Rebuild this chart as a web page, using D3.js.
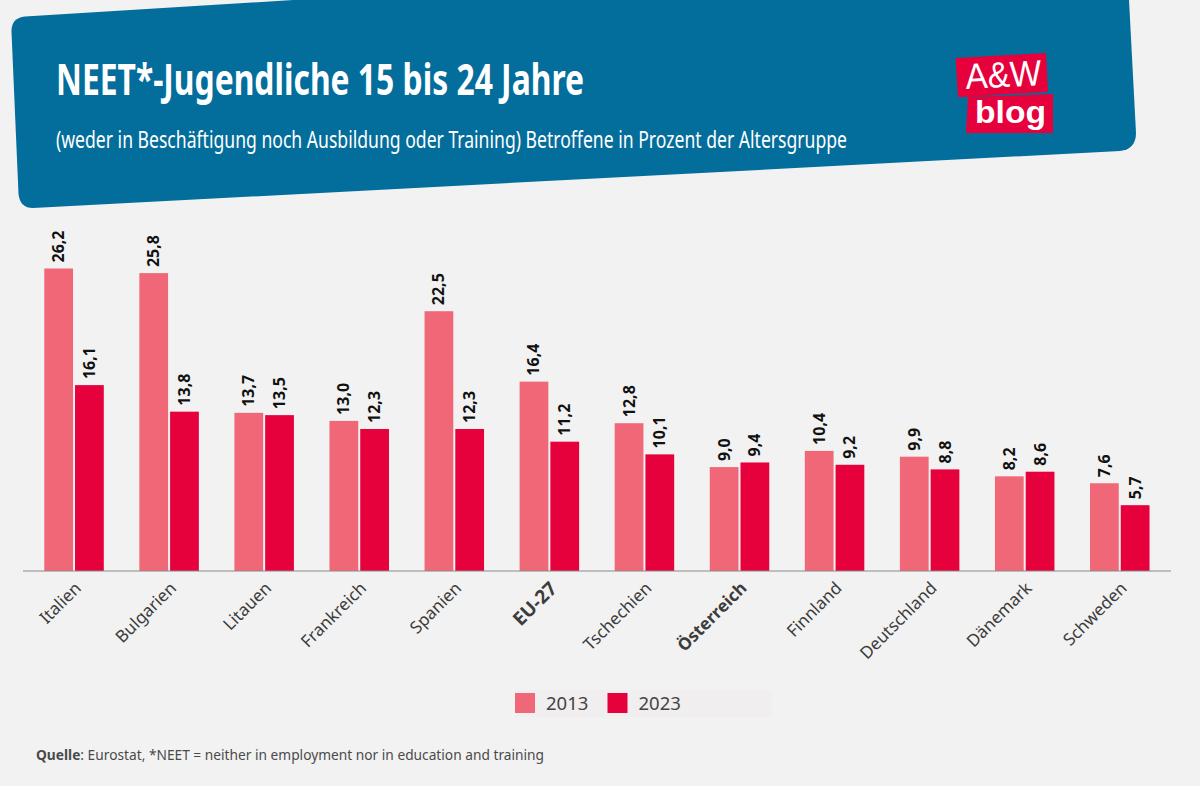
<!DOCTYPE html>
<html>
<head>
<meta charset="utf-8">
<script src="https://cdn.jsdelivr.net/npm/d3@7"></script>
<style>
  html, body { margin: 0; padding: 0; background: #f2f2f2; }
  svg { display: block; }
  text { font-family: "Noto Sans", sans-serif; }
</style>
</head>
<body>
<div id="chart"></div>
<script>
const countries = ["Italien", "Bulgarien", "Litauen", "Frankreich", "Spanien", "EU-27", "Tschechien", "Österreich", "Finnland", "Deutschland", "Dänemark", "Schweden"];
const values2013 = [26.2, 25.8, 13.7, 13.0, 22.5, 16.4, 12.8, 9.0, 10.4, 9.9, 8.2, 7.6];
const values2023 = [16.1, 13.8, 13.5, 12.3, 12.3, 11.2, 10.1, 9.4, 9.2, 8.8, 8.6, 5.7];
const years = ["2013", "2023"];
const boldCountries = ["EU-27", "Österreich"];

const width = 1200, height = 786;
const baseline = 571;
const colors = d3.scaleOrdinal().domain(years).range(["#f06878", "#e6003c"]);
const logoFont = '"Liberation Sans", sans-serif';

const svg = d3.select("#chart").append("svg")
    .attr("width", width)
    .attr("height", height);

svg.append("rect")
    .attr("width", width)
    .attr("height", height)
    .attr("fill", "#f2f2f2");

// header shape
svg.append("path")
    .attr("d", "M11.5,32 Q11,18 25,16.5 L293,0 L1129,0 L1136,133 Q1136,149 1120,151 L33,208 Q20,208 18.5,194 Z")
    .attr("fill", "#036d9c");

svg.append("text")
    .attr("x", 56)
    .attr("y", 95)
    .attr("fill", "#fff")
    .attr("font-size", 43)
    .attr("font-weight", 700)
    .attr("textLength", 528)
    .attr("lengthAdjust", "spacingAndGlyphs")
    .text("NEET*-Jugendliche 15 bis 24 Jahre");

svg.append("text")
    .attr("x", 56)
    .attr("y", 148)
    .attr("fill", "#fff")
    .attr("font-size", 23)
    .attr("textLength", 791)
    .attr("lengthAdjust", "spacingAndGlyphs")
    .text("(weder in Beschäftigung noch Ausbildung oder Training) Betroffene in Prozent der Altersgruppe");

// logo
const logo = svg.append("g");
logo.append("path")
    .attr("d", "M955.5,58 L1046,53 L1048,92 L1010,94 L968,97 L958,97 Z")
    .attr("fill", "#e6003c");
logo.append("path")
    .attr("d", "M968,97 L1053,94 L1053,133 L966,133 Z")
    .attr("fill", "#e6003c");
logo.append("text")
    .attr("transform", "translate(966,89) rotate(-3)")
    .attr("fill", "#fff")
    .attr("font-size", 36)
    .attr("textLength", 76)
    .attr("lengthAdjust", "spacingAndGlyphs")
    .style("font-family", logoFont)
    .text("A&W");
logo.append("text")
    .attr("x", 975)
    .attr("y", 123)
    .attr("fill", "#fff")
    .attr("font-size", 32)
    .attr("font-weight", 700)
    .attr("textLength", 71)
    .attr("lengthAdjust", "spacingAndGlyphs")
    .style("font-family", logoFont)
    .text("blog");

// scales
const x0 = d3.scaleBand()
    .domain(countries)
    .range([26.5, 1167.3]);

const x1 = d3.scaleBand()
    .domain(years)
    .range([0, 59.5])
    .paddingInner(0.065);

const y = d3.scaleLinear()
    .domain([0, 26.2])
    .range([baseline, 268.5]);

const rows = countries.map((c, i) => ({
    country: c,
    vals: [
        {year: "2013", value: values2013[i]},
        {year: "2023", value: values2023[i]}
    ]
}));

const groups = svg.selectAll(".group")
    .data(rows)
    .enter().append("g")
    .attr("class", "group")
    .attr("transform", d => `translate(${x0(d.country) + x0.bandwidth() / 2 - 29.75},0)`);

groups.selectAll("rect")
    .data(d => d.vals)
    .enter().append("rect")
    .attr("x", d => x1(d.year))
    .attr("y", d => y(d.value))
    .attr("width", x1.bandwidth())
    .attr("height", d => baseline - y(d.value))
    .attr("fill", d => colors(d.year));

// value labels
groups.selectAll(".val")
    .data(d => d.vals)
    .enter().append("text")
    .attr("class", "val")
    .attr("transform", d => `translate(${x1(d.year) + x1.bandwidth() / 2 + 5.5},${y(d.value) - 6}) rotate(-90)`)
    .attr("font-size", 16)
    .attr("font-weight", 700)
    .attr("fill", "#111")
    .text(d => d.value.toFixed(1).replace(".", ","));

// x axis
const xAxis = d3.axisBottom(x0).tickSize(0).tickPadding(0);
const axisG = svg.append("g")
    .attr("transform", `translate(0,${baseline})`)
    .call(xAxis);

axisG.select(".domain").remove();
axisG.append("line")
    .attr("x1", 23)
    .attr("x2", 1171)
    .attr("stroke", "#8a8a8a")
    .attr("stroke-width", 1.2);

axisG.selectAll(".tick text")
    .attr("text-anchor", "end")
    .attr("transform", "translate(4,14) rotate(-45)")
    .attr("dy", "0.35em")
    .attr("font-size", d => d === "EU-27" ? 19 : 17)
    .attr("fill", "#3c3c3c")
    .style("font-family", '"Noto Sans", sans-serif')
    .attr("font-weight", d => boldCountries.includes(d) ? 700 : 400);

// legend
svg.append("rect")
    .attr("x", 515)
    .attr("y", 690)
    .attr("width", 257)
    .attr("height", 27)
    .attr("fill", "#f0eeef");

const legend = svg.selectAll(".legend")
    .data(years)
    .enter().append("g")
    .attr("class", "legend")
    .attr("transform", (d, i) => `translate(${515 + i * 92.5},693)`);

legend.append("rect")
    .attr("width", 20)
    .attr("height", 20)
    .attr("fill", d => colors(d));

legend.append("text")
    .attr("x", 31)
    .attr("y", 17)
    .attr("font-size", 18.5)
    .attr("fill", "#444")
    .text(d => d);

// source
const source = svg.append("text")
    .attr("x", 36)
    .attr("y", 760)
    .attr("font-size", 15)
    .attr("fill", "#4a4a4a")
    .attr("textLength", 508)
    .attr("lengthAdjust", "spacingAndGlyphs");
source.append("tspan").attr("font-weight", 700).text("Quelle");
source.append("tspan").text(": Eurostat, *NEET = neither in employment nor in education and training");
</script>
</body>
</html>
